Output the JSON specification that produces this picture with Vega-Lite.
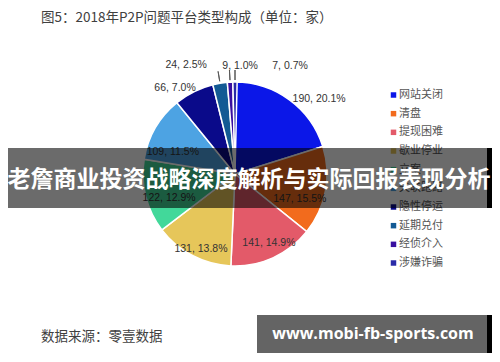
{
  "$schema": "https://vega.github.io/schema/vega-lite/v6.json",
  "width": 500,
  "height": 362,
  "autosize": {"type": "none"},
  "padding": 0,
  "background": "white",
  "config": {"view": {"stroke": null}, "font": "Noto Sans CJK SC", "text": {"font": "Liberation Sans", "fontSize": 10.5, "fill": "#333333"}},
  "datasets": {
    "main": [
      {"rank": 1, "type": "网站关闭", "count": 190, "pct": 20.1},
      {"rank": 2, "type": "清盘", "count": 147, "pct": 15.5},
      {"rank": 3, "type": "提现困难", "count": 141, "pct": 14.9},
      {"rank": 4, "type": "歇业停业", "count": 131, "pct": 13.8},
      {"rank": 5, "type": "立案", "count": 122, "pct": 12.9},
      {"rank": 6, "type": "失联跑路", "count": 109, "pct": 11.5},
      {"rank": 7, "type": "隐性停运", "count": 66, "pct": 7.0},
      {"rank": 8, "type": "延期兑付", "count": 24, "pct": 2.5},
      {"rank": 9, "type": "经侦介入", "count": 9, "pct": 1.0},
      {"rank": 10, "type": "涉嫌诈骗", "count": 7, "pct": 0.7}
    ],
    "notes": [
      {"key": "title", "text": "图5：2018年P2P问题平台类型构成（单位：家）"},
      {"key": "source", "text": "数据来源：零壹数据"},
      {"key": "banner", "text": "老詹商业投资战略深度解析与实际回报表现分析"},
      {"key": "url", "text": "www.mobi-fb-sports.com"}
    ]
  },
  "layer": [
    {
      "data": {"name": "main"},
      "transform": [
        {"stack": "count", "groupby": [], "sort": [{"field": "rank", "order": "ascending"}], "as": ["s0", "s1"]},
        {"calculate": "(datum.s0 + datum.s1) / 2", "as": "mid"},
        {"calculate": "datum.count + ', ' + format(datum.pct, '.1f') + '%'", "as": "label"}
      ],
      "layer": [
        {
          "mark": {"type": "arc", "outerRadius": 92, "stroke": "white", "strokeWidth": 1.5},
          "encoding": {
            "x": {"value": 235},
            "y": {"value": 174},
            "theta": {"field": "s0", "type": "quantitative"},
            "theta2": {"field": "s1"},
            "color": {
              "field": "type",
              "type": "nominal",
              "scale": {
                "domain": ["网站关闭", "清盘", "提现困难", "歇业停业", "立案", "失联跑路", "隐性停运", "延期兑付", "经侦介入", "涉嫌诈骗"],
                "range": ["#0b17e8", "#f26b1d", "#e35a69", "#e6c65a", "#42d89a", "#4da3e3", "#0a0a8a", "#135a94", "#3a0fa0", "#2a2aa8"]
              },
              "legend": null
            }
          }
        },
        {
          "transform": [{"filter": "datum.rank >= 8"}],
          "mark": {"type": "arc", "innerRadius": 94, "outerRadius": 104, "fill": null, "stroke": "#595959", "strokeWidth": 1},
          "encoding": {"x": {"value": 235}, "y": {"value": 174}, "theta": {"field": "mid", "type": "quantitative"}, "theta2": {"field": "mid"}}
        },
        {
          "transform": [{"filter": "datum.rank == 1"}],
          "mark": {"type": "text", "radius": 110, "dx": 19, "dy": 14},
          "encoding": {"x": {"value": 235}, "y": {"value": 174}, "theta": {"field": "mid", "type": "quantitative"}, "text": {"field": "label"}}
        },
        {
          "transform": [{"filter": "datum.rank == 2"}],
          "mark": {"type": "text", "radius": 68, "dx": -2, "dy": 12},
          "encoding": {"x": {"value": 235}, "y": {"value": 174}, "theta": {"field": "mid", "type": "quantitative"}, "text": {"field": "label"}}
        },
        {
          "transform": [{"filter": "datum.rank == 3"}],
          "mark": {"type": "text", "radius": 75, "dx": 3, "dy": 1},
          "encoding": {"x": {"value": 235}, "y": {"value": 174}, "theta": {"field": "mid", "type": "quantitative"}, "text": {"field": "label"}}
        },
        {
          "transform": [{"filter": "datum.rank == 4"}],
          "mark": {"type": "text", "radius": 80, "dx": 3, "dy": 4},
          "encoding": {"x": {"value": 235}, "y": {"value": 174}, "theta": {"field": "mid", "type": "quantitative"}, "text": {"field": "label"}}
        },
        {
          "transform": [{"filter": "datum.rank == 5"}],
          "mark": {"type": "text", "radius": 70, "dx": 2, "dy": 7},
          "encoding": {"x": {"value": 235}, "y": {"value": 174}, "theta": {"field": "mid", "type": "quantitative"}, "text": {"field": "label"}}
        },
        {
          "transform": [{"filter": "datum.rank == 6"}],
          "mark": {"type": "text", "radius": 66, "dx": -5, "dy": 11},
          "encoding": {"x": {"value": 235}, "y": {"value": 174}, "theta": {"field": "mid", "type": "quantitative"}, "text": {"field": "label"}}
        },
        {
          "transform": [{"filter": "datum.rank == 7"}],
          "mark": {"type": "text", "radius": 105, "dx": -13, "dy": 8},
          "encoding": {"x": {"value": 235}, "y": {"value": 174}, "theta": {"field": "mid", "type": "quantitative"}, "text": {"field": "label"}}
        },
        {
          "transform": [{"filter": "datum.rank == 8"}],
          "mark": {"type": "text", "radius": 110, "dx": -31, "dy": 0},
          "encoding": {"x": {"value": 235}, "y": {"value": 174}, "theta": {"field": "mid", "type": "quantitative"}, "text": {"field": "label"}}
        },
        {
          "transform": [{"filter": "datum.rank == 9"}],
          "mark": {"type": "text", "radius": 110, "dx": 11, "dy": 2},
          "encoding": {"x": {"value": 235}, "y": {"value": 174}, "theta": {"field": "mid", "type": "quantitative"}, "text": {"field": "label"}}
        },
        {
          "transform": [{"filter": "datum.rank == 10"}],
          "mark": {"type": "text", "radius": 110, "dx": 55, "dy": 2},
          "encoding": {"x": {"value": 235}, "y": {"value": 174}, "theta": {"field": "mid", "type": "quantitative"}, "text": {"field": "label"}}
        },
        {
          "mark": {"type": "point", "shape": "square", "filled": true, "size": 30, "opacity": 1, "x": 393.5},
          "encoding": {
            "y": {"field": "type", "type": "nominal", "sort": {"field": "rank", "op": "min"}, "scale": {"type": "point", "range": [95, 263], "padding": 0}, "axis": null},
            "color": {"field": "type", "type": "nominal", "legend": null}
          }
        },
        {
          "mark": {"type": "text", "x": 399, "align": "left", "baseline": "middle", "font": "Noto Sans CJK SC", "fontSize": 11, "fill": "#555555"},
          "encoding": {
            "y": {"field": "type", "type": "nominal", "sort": {"field": "rank", "op": "min"}, "axis": null},
            "text": {"field": "type"}
          }
        }
      ]
    },
    {
      "data": {"name": "notes"},
      "layer": [
        {
          "transform": [{"filter": "datum.key == 'title'"}],
          "mark": {"type": "text", "x": 41, "y": 18, "align": "left", "baseline": "middle", "font": "Noto Sans CJK SC", "fontSize": 13.5, "fill": "#404040"},
          "encoding": {"text": {"field": "text"}}
        },
        {
          "transform": [{"filter": "datum.key == 'source'"}],
          "mark": {"type": "text", "x": 41, "y": 337, "align": "left", "baseline": "middle", "font": "Noto Sans CJK SC", "fontSize": 13.5, "fill": "#404040"},
          "encoding": {"text": {"field": "text"}}
        },
        {
          "transform": [{"filter": "datum.key == 'banner'"}],
          "mark": {"type": "rect", "x": 8, "x2": 487, "y": 148, "y2": 208, "fill": "#000000", "opacity": 0.58},
          "encoding": {}
        },
        {
          "transform": [{"filter": "datum.key == 'banner'"}],
          "mark": {"type": "rect", "x": 487, "x2": 492, "y": 148, "y2": 208, "fill": "#000000"},
          "encoding": {}
        },
        {
          "transform": [{"filter": "datum.key == 'banner'"}],
          "mark": {"type": "text", "x": 249, "y": 180, "align": "center", "baseline": "middle", "font": "Noto Sans CJK SC", "fontSize": 23, "fontWeight": "bold", "fill": "#ffffff"},
          "encoding": {"text": {"field": "text"}}
        },
        {
          "transform": [{"filter": "datum.key == 'url'"}],
          "mark": {"type": "rect", "x": 257, "x2": 487, "y": 315, "y2": 353, "fill": "#646464"},
          "encoding": {}
        },
        {
          "transform": [{"filter": "datum.key == 'url'"}],
          "mark": {"type": "rect", "x": 487, "x2": 492, "y": 315, "y2": 353, "fill": "#000000"},
          "encoding": {}
        },
        {
          "transform": [{"filter": "datum.key == 'url'"}],
          "mark": {"type": "text", "x": 373, "y": 334, "align": "center", "baseline": "middle", "font": "Open Sans", "fontSize": 16, "fontWeight": "bold", "fill": "#ffffff"},
          "encoding": {"text": {"field": "text"}}
        }
      ]
    }
  ]
}
